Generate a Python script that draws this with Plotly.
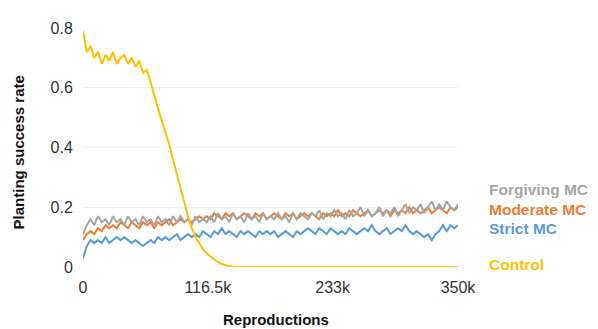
import plotly.graph_objects as go

step = 3500
reproductions = [i * step for i in range(101)]

control = [0.79, 0.72, 0.74, 0.70, 0.72, 0.68, 0.71, 0.69, 0.72, 0.68,
           0.70, 0.71, 0.68, 0.70, 0.67, 0.69, 0.65, 0.66, 0.62, 0.57,
           0.53, 0.49, 0.45, 0.41, 0.36, 0.31, 0.26, 0.21, 0.17, 0.13,
           0.10, 0.08, 0.06, 0.045, 0.035, 0.025, 0.016, 0.010, 0.006, 0.003,
           0.001] + [0.0] * 60

forgiving = [0.11, 0.14, 0.16, 0.14, 0.17, 0.15, 0.16, 0.14, 0.17, 0.15,
             0.16, 0.14, 0.17, 0.15, 0.16, 0.14, 0.17, 0.15, 0.16, 0.14,
             0.17, 0.15, 0.16, 0.14, 0.17, 0.15, 0.17, 0.15, 0.16, 0.14,
             0.17, 0.15, 0.16, 0.15, 0.17, 0.15, 0.18, 0.16, 0.17, 0.15,
             0.18, 0.16, 0.17, 0.15, 0.18, 0.16, 0.17, 0.15, 0.18, 0.16,
             0.17, 0.16, 0.18, 0.16, 0.17, 0.15, 0.18, 0.16, 0.18, 0.17,
             0.16, 0.18, 0.17, 0.19, 0.16, 0.18, 0.17, 0.19, 0.17, 0.18,
             0.16, 0.19, 0.17, 0.18, 0.20, 0.17, 0.19, 0.17, 0.18, 0.20,
             0.17, 0.19, 0.18, 0.20, 0.17, 0.19, 0.21, 0.18, 0.20, 0.19,
             0.21, 0.18, 0.20, 0.22, 0.19, 0.21, 0.19, 0.22, 0.20, 0.19, 0.21]

moderate = [0.09, 0.11, 0.12, 0.11, 0.13, 0.12, 0.14, 0.13, 0.14, 0.13,
            0.15, 0.14, 0.13, 0.15, 0.14, 0.13, 0.15, 0.14, 0.15, 0.13,
            0.15, 0.14, 0.15, 0.16, 0.14, 0.15, 0.16, 0.15, 0.16, 0.15,
            0.16, 0.17, 0.16, 0.17, 0.16, 0.18, 0.17, 0.16, 0.18, 0.17,
            0.18, 0.16, 0.17, 0.18, 0.17, 0.16, 0.18, 0.17, 0.18, 0.16,
            0.17, 0.18, 0.17, 0.16, 0.18, 0.17, 0.18, 0.16, 0.17, 0.18,
            0.17, 0.18, 0.17, 0.16, 0.18, 0.17, 0.18, 0.17, 0.19, 0.17,
            0.18, 0.17, 0.19, 0.18, 0.17, 0.18, 0.19, 0.17, 0.18, 0.19,
            0.18, 0.19, 0.17, 0.19, 0.18, 0.19, 0.18, 0.20, 0.18, 0.19,
            0.18, 0.19, 0.20, 0.18, 0.19, 0.20, 0.19, 0.18, 0.20, 0.19, 0.20]

strict = [0.03, 0.07, 0.09, 0.08, 0.09, 0.08, 0.10, 0.08, 0.09, 0.10,
          0.09, 0.10, 0.09, 0.08, 0.09, 0.08, 0.07, 0.08, 0.09, 0.08,
          0.10, 0.09, 0.10, 0.09, 0.10, 0.11, 0.09, 0.10, 0.11, 0.10,
          0.11, 0.10, 0.12, 0.11, 0.10, 0.12, 0.11, 0.13, 0.11, 0.12,
          0.11, 0.10, 0.12, 0.11, 0.12, 0.11, 0.10, 0.12, 0.11, 0.12,
          0.11, 0.12, 0.10, 0.11, 0.12, 0.11, 0.10, 0.12, 0.11, 0.12,
          0.13, 0.12, 0.11, 0.13, 0.12, 0.11, 0.13, 0.12, 0.11, 0.12,
          0.11, 0.13, 0.12, 0.11, 0.12, 0.13, 0.12, 0.14, 0.12, 0.11,
          0.12, 0.13, 0.11, 0.12, 0.13, 0.12, 0.14, 0.12, 0.11, 0.12,
          0.11, 0.10, 0.11, 0.09, 0.11, 0.12, 0.14, 0.12, 0.14, 0.13, 0.14]

x_tickvals = [0, 116500, 233000, 350000]
x_ticktext = ["0", "116.5k", "233k", "350k"]
y_tickvals = [0, 0.2, 0.4, 0.6, 0.8]
y_ticktext = ["0", "0.2", "0.4", "0.6", "0.8"]

series = [
    ("Strict MC", strict, "#5B9BD5", 0.159),
    ("Moderate MC", moderate, "#ED7D31", 0.24),
    ("Forgiving MC", forgiving, "#A5A5A5", 0.325),
    ("Control", control, "#FFC000", 0.012),
]

FONT = "Liberation Sans, Arial, sans-serif"
fig = go.Figure()
annotations = []
for name, vals, color, ly in series:
    fig.add_trace(go.Scatter(x=reproductions, y=vals, mode="lines", name=name,
                             line=dict(color=color, width=2), showlegend=False))
    annotations.append(dict(text=f"<b>{name}</b>", x=1.077, y=ly, xref="paper", yref="paper",
                            xanchor="left", yanchor="middle", showarrow=False,
                            font=dict(family=FONT, size=15.5, color=color)))

annotations.append(dict(text="<b>Reproductions</b>", x=0.515, y=-0.22, xref="paper", yref="paper",
                        xanchor="center", yanchor="middle", showarrow=False,
                        font=dict(family=FONT, size=15, color="#111111")))
annotations.append(dict(text="<b>Planting success rate</b>", x=-0.173, y=0.48, xref="paper", yref="paper",
                        xanchor="center", yanchor="middle", showarrow=False, textangle=-90,
                        font=dict(family=FONT, size=15, color="#111111")))

# page body has an 8px margin, so the figure is 16px smaller and margins shifted
fig.update_layout(
    width=590, height=321,
    margin=dict(l=75, r=140, t=13, b=62),
    paper_bgcolor="white", plot_bgcolor="white",
    font=dict(family=FONT, size=16, color="#333333"),
    annotations=annotations,
    xaxis=dict(range=[0, 350000], tickvals=x_tickvals, ticktext=x_ticktext,
               showgrid=False, zeroline=False, showline=False,
               ticks="outside", ticklen=6, tickcolor="rgba(0,0,0,0)",
               tickfont=dict(size=16, color="#333333")),
    yaxis=dict(range=[0, 0.8], tickvals=y_tickvals, ticktext=y_ticktext,
               showgrid=True, gridcolor="#EFEFEF", gridwidth=1,
               zeroline=False, showline=False,
               ticks="outside", ticklen=6, tickcolor="rgba(0,0,0,0)",
               tickfont=dict(size=16, color="#333333")),
)

fig.write_html("out.html")
